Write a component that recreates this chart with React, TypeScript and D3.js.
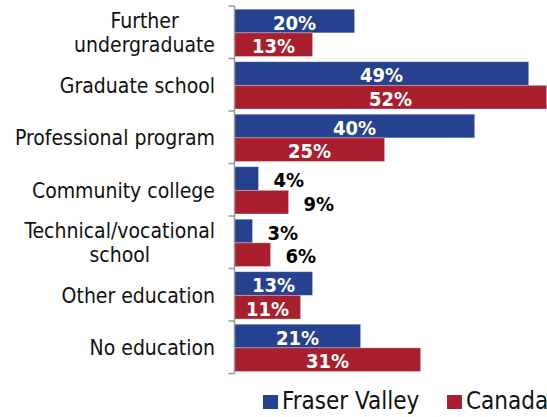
import { useEffect, useRef } from "react"
import * as d3 from "d3"

const categories = [
  "Further\nundergraduate",
  "Graduate school",
  "Professional program",
  "Community college",
  "Technical/vocational\nschool",
  "Other education",
  "No education",
]
const seriesNames = ["Fraser Valley", "Canada"]
const fraserValley = [20, 49, 40, 4, 3, 13, 21]
const canada = [13, 52, 25, 9, 6, 11, 31]

const colors = ["#26418f", "#aa1f2e"]
const FONT = "'DejaVu Sans Condensed', 'DejaVu Sans', sans-serif"

const App = () => {
  const svgRef = useRef<SVGSVGElement | null>(null)

  useEffect(() => {
    document.body.style.margin = "0"
    if (!svgRef.current) return
    const svg = d3.select(svgRef.current)
    svg.selectAll("*").remove()

    const axisX = 234.5
    const top = 6
    const bottom = 373.5

    // category bands
    const y0 = d3.scaleBand<string>().domain(categories).range([top, bottom]).paddingInner(0.1).paddingOuter(0.05)
    const y1 = d3.scaleBand<string>().domain(seriesNames).range([0, y0.bandwidth()])
    const x = d3.scaleLinear().domain([0, 52]).range([axisX, 546.7])

    const rows = categories.map((c, i) => ({ cat: c, values: [fraserValley[i], canada[i]] }))

    const groups = svg
      .selectAll<SVGGElement, (typeof rows)[0]>(".row")
      .data(rows)
      .join("g")
      .attr("class", "row")
      .attr("transform", (d) => `translate(0,${y0(d.cat)! + 0.6})`)

    groups
      .selectAll("rect")
      .data((d) => d.values.map((v, j) => ({ v, s: seriesNames[j], j })))
      .join("rect")
      .attr("x", x(0))
      .attr("y", (d) => y1(d.s)!)
      .attr("width", (d) => x(d.v) - x(0))
      .attr("height", y1.bandwidth())
      .attr("fill", (d) => colors[d.j])
      .attr("stroke", "rgba(255,255,255,0.35)")
      .attr("stroke-width", 0.8)

    groups
      .selectAll("text")
      .data((d) => d.values.map((v, j) => ({ v, s: seriesNames[j], j })))
      .join("text")
      .attr("x", (d) => (d.v < 10 ? x(d.v) + 15 : (x(0) + x(d.v)) / 2))
      .attr("y", (d) => y1(d.s)! + y1.bandwidth() / 2 + 8.5)
      .attr("text-anchor", (d) => (d.v < 10 ? "start" : "middle"))
      .attr("font-family", FONT)
      .attr("font-weight", "bold")
      .attr("font-size", "20px")
      .attr("fill", (d) => (d.v < 10 ? "#000" : "#fff"))
      .text((d) => `${d.v}%`)

    // axis line with ticks at band boundaries
    const axis = svg.append("g")
    axis
      .append("line")
      .attr("x1", axisX)
      .attr("x2", axisX)
      .attr("y1", top)
      .attr("y2", bottom)
      .attr("stroke", "#9a9a9a")
      .attr("stroke-width", 1.5)
    const ticks = d3.range(categories.length + 1).map((i) => top + i * ((bottom - top) / categories.length))
    axis
      .selectAll(".tick")
      .data(ticks)
      .join("line")
      .attr("x1", axisX - 6)
      .attr("x2", axisX)
      .attr("y1", (d) => d)
      .attr("y2", (d) => d)
      .attr("stroke", "#9a9a9a")
      .attr("stroke-width", 1.5)

    // category labels
    const labelRight = 215
    const lineH = 24
    categories.forEach((c, i) => {
      const lines = c.split("\n")
      const center = top + (i + 0.5) * ((bottom - top) / categories.length)
      const t = svg
        .append("text")
        .attr("font-family", FONT)
        .attr("font-size", "21px")
        .attr("fill", "#111")
        .attr("text-anchor", "middle")
      lines.forEach((ln, k) => {
        t.append("tspan")
          .attr("y", center + 7.8 + (k - (lines.length - 1) / 2) * lineH)
          .text(ln)
      })
      let maxW = 0
      t.selectAll<SVGTSpanElement, unknown>("tspan").each(function () {
        maxW = Math.max(maxW, this.getComputedTextLength())
      })
      t.selectAll("tspan").attr("x", labelRight - maxW / 2)
    })

    // legend
    const legendX = [263, 447]
    const legend = svg.append("g")
    seriesNames.forEach((s, j) => {
      legend
        .append("rect")
        .attr("x", legendX[j])
        .attr("y", 395)
        .attr("width", 15)
        .attr("height", 14)
        .attr("fill", colors[j])
      legend
        .append("text")
        .attr("x", legendX[j] + 19)
        .attr("y", 409)
        .attr("font-family", FONT)
        .attr("font-size", "24px")
        .attr("fill", "#111")
        .text(s)
    })
  }, [])

  return <svg ref={svgRef} width={547} height={417} style={{ display: "block", background: "#fff" }} />
}

export default App
